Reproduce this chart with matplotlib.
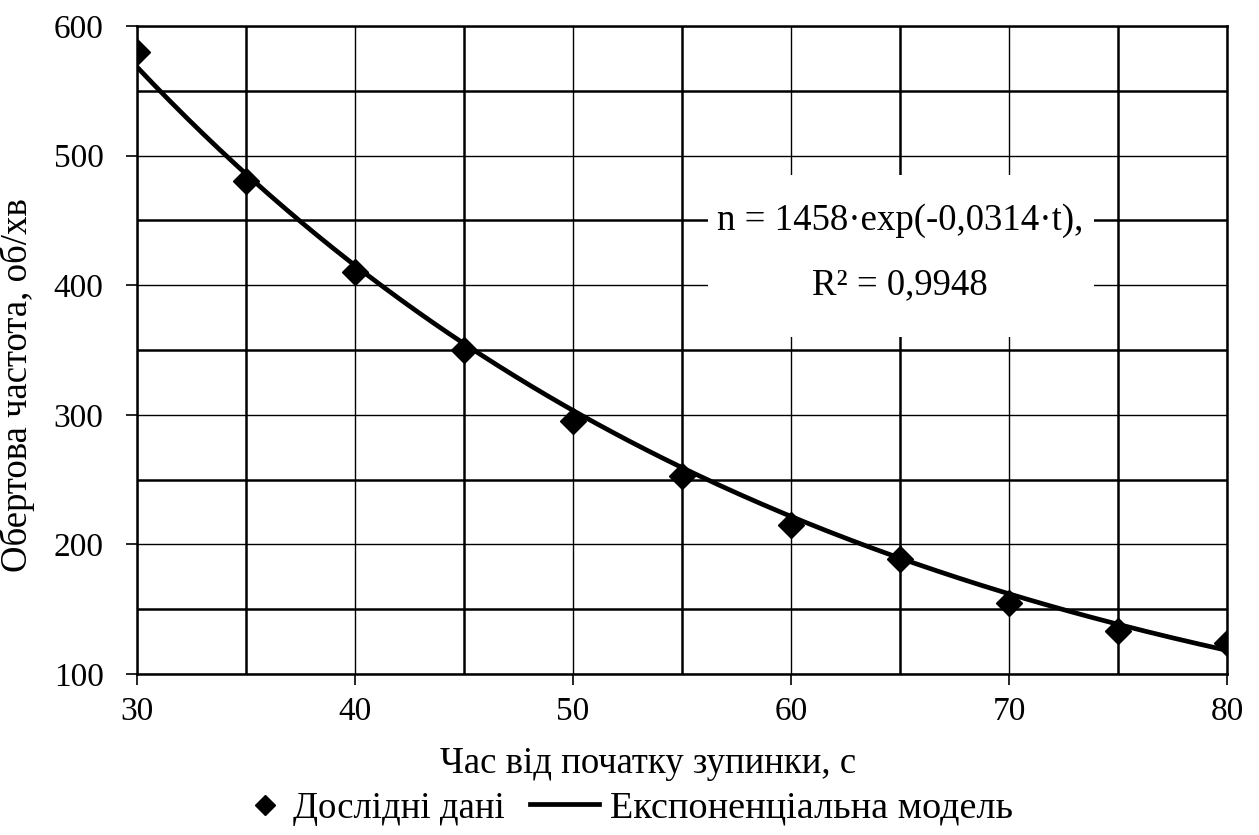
import numpy as np
import matplotlib.pyplot as plt
from matplotlib.ticker import MultipleLocator
from matplotlib.patches import Rectangle

plt.rcParams['font.family'] = ['Liberation Serif', 'DejaVu Serif']

# measured rotation speed after stop
t_data = [30, 35, 40, 45, 50, 55, 60, 65, 70, 75, 80]
n_data = [580, 480, 410, 350, 295, 253, 215, 189, 155, 133, 124]

# exponential fit n = a*exp(b*t)
fit_a = 1458
fit_b = -0.0314
fit_r2 = 0.9948

x_ticks = [30, 40, 50, 60, 70, 80]
y_ticks = [100, 200, 300, 400, 500, 600]

fig = plt.figure(figsize=(12.59, 8.35), dpi=100)
ax = fig.add_axes([0.1088, 0.1928, 0.8658, 0.7761])

t_fit = np.linspace(min(t_data), max(t_data), 200)
n_fit = fit_a * np.exp(fit_b * t_fit)

fit_line, = ax.plot(t_fit, n_fit, color='black', lw=3.4, zorder=4)
pts, = ax.plot(t_data, n_data, linestyle='none', marker='D', ms=13.5,
               color='black', zorder=5)

ax.set_xlim(30, 80)
ax.set_ylim(100, 600)
ax.set_xticks(x_ticks)
ax.set_yticks(y_ticks)
ax.xaxis.set_minor_locator(MultipleLocator(5))
ax.yaxis.set_minor_locator(MultipleLocator(50))

ax.grid(which='major', color='black', lw=1.0, zorder=1)
ax.grid(which='minor', color='black', lw=1.8, zorder=1)
ax.tick_params(which='major', direction='out', length=8, width=1.2,
               labelsize=24)
ax.tick_params(axis='y', pad=16)
ax.tick_params(axis='x', pad=8)
ax.tick_params(which='minor', length=0)
for s in ax.spines.values():
    s.set_linewidth(1.8)
    s.set_zorder(2)

ax.set_xlabel('Час від початку зупинки, с', fontsize=26.5)
ax.set_ylabel('Обертова частота, об/хв', fontsize=26.5)
ax.xaxis.set_label_coords(0.469, -0.112)
ax.yaxis.set_label_coords(-0.094, 0.446)

# white panel under the equation
ax.add_patch(Rectangle((56.2, 360), 17.7, 125, facecolor='white',
                       edgecolor='none', zorder=3))
ax.text(65.0, 450, 'n = 1458·exp(-0,0314·t),', fontsize=26.5,
        ha='center', va='center', zorder=4)
ax.text(65.0, 400, f'R² = {fit_r2}'.replace('.', ','), fontsize=26.5,
        ha='center', va='center', zorder=4)

# two legend entries placed separately (short handle for the marker)
leg1 = fig.legend([pts], ['Дослідні дані'], loc='center left',
                  bbox_to_anchor=(0.199, 0.032), frameon=False,
                  fontsize=26.5, handlelength=0.8, handletextpad=0.35,
                  borderpad=0, borderaxespad=0, markerscale=0.75)
fig.legend([fit_line], ['Експоненціальна модель'], loc='center left',
           bbox_to_anchor=(0.421, 0.032), frameon=False,
           fontsize=27.5, handlelength=1.8, handletextpad=0.3,
           borderpad=0, borderaxespad=0)

fig.savefig('out.png', dpi=100)
